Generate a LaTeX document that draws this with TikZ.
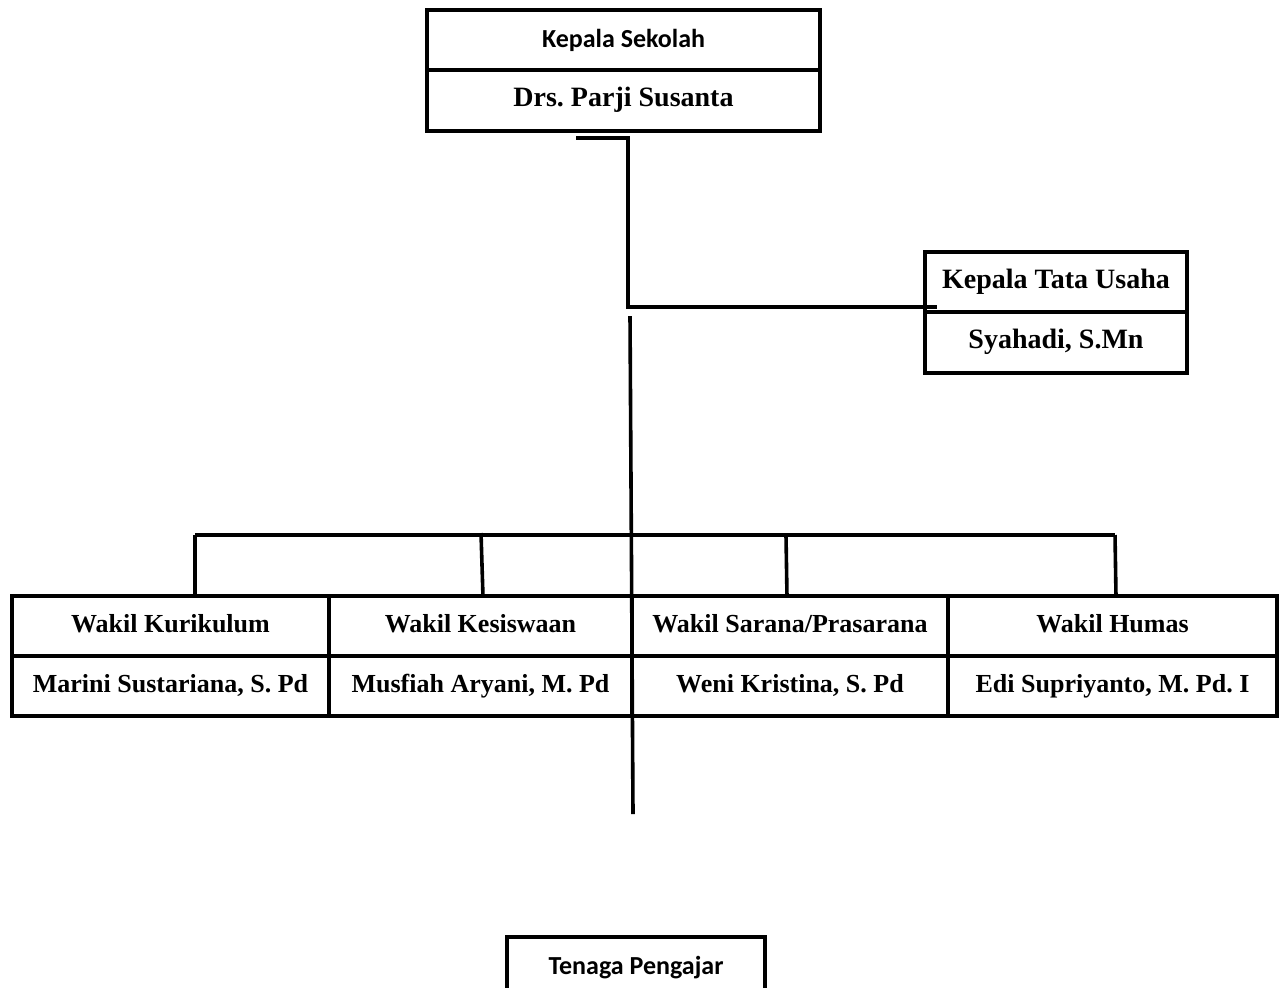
\documentclass[tikz,border=0pt]{standalone}
\usepackage{fontspec}
\setmainfont{Liberation Serif}
\newfontfamily\calfont{Carlito}
\frenchspacing
\begin{document}
\begin{tikzpicture}[x=0.5pt,y=-0.5pt,
  cell/.style={draw,line width=2pt,inner sep=0pt,align=center,text height=0.8em,text depth=0.17em},
  serifA/.style={font=\fontsize{14}{16}\selectfont\bfseries},
  serifB/.style={font=\fontsize{13}{15}\selectfont\bfseries},
  sansA/.style={font=\fontsize{13}{15}\selectfont\calfont\bfseries,text height=0.9em,text depth=0.18em},
  conn/.style={line width=1.8pt}]
\clip (0,0) rectangle (1283,987);
\fill[white] (0,0) rectangle (1283,987);
% top box
\node[cell,sansA,minimum width=196.5pt,minimum height=30pt] (ks) at (623.5,40) {Kepala Sekolah};
\node[cell,serifA,minimum width=196.5pt,minimum height=30.5pt] (dps) at (623.5,100.5) {Drs. Parji Susanta};
% tata usaha
\node[cell,serifA,minimum width=131pt,minimum height=30pt] (ktu) at (1056,282) {Kepala Tata Usaha};
\node[cell,serifA,minimum width=131pt,minimum height=30.5pt] (sya) at (1056,342.5) {Syahadi, S.Mn};
% row of wakil
\node[cell,serifB,minimum width=158.5pt,minimum height=30pt] (wk) at (170.5,626) {Wakil Kurikulum};
\node[cell,serifB,minimum width=158.5pt,minimum height=30pt] (ms) at (170.5,686) {Marini Sustariana, S. Pd};
\node[cell,serifB,minimum width=151.5pt,minimum height=30pt] (wks) at (480.5,626) {Wakil Kesiswaan};
\node[cell,serifB,minimum width=151.5pt,minimum height=30pt] (ma) at (480.5,686) {Musfiah Aryani, M. Pd};
\node[cell,serifB,minimum width=158pt,minimum height=30pt] (wsp) at (790,626) {Wakil Sarana/Prasarana};
\node[cell,serifB,minimum width=158pt,minimum height=30pt] (wkr) at (790,686) {Weni Kristina, S. Pd};
\node[cell,serifB,minimum width=164.5pt,minimum height=30pt] (wh) at (1112.5,626) {Wakil Humas};
\node[cell,serifB,minimum width=164.5pt,minimum height=30pt] (es) at (1112.5,686) {Edi Supriyanto, M. Pd. I};
% tenaga pengajar
\node[cell,sansA,minimum width=129pt,minimum height=30pt] (tp) at (636,967) {Tenaga Pengajar};
% connectors
\coordinate (s1) at (576,138);
\coordinate (s2) at (628,138);
\coordinate (s3) at (628,307);
\coordinate (s4) at (937,307);
\draw[conn] (s1) -- (s2) -- (s3) -- (s4);
\coordinate (vtop) at (630,316);
\coordinate (vbot) at (633,814);
\draw[conn] (vtop) -- (vbot);
\coordinate (bL) at (195,535);
\coordinate (bR) at (1115,535);
\coordinate (b2) at (481,533);
\coordinate (b3) at (786,536);
\draw[conn] (bL) -- (bR);
\draw[conn] (bL) -- (bL |- wk.north);
\draw[conn] (b2) -- (483,597);
\draw[conn] (b3) -- (787,597);
\draw[conn] (bR) -- (1116,597);
\end{tikzpicture}
\end{document}
